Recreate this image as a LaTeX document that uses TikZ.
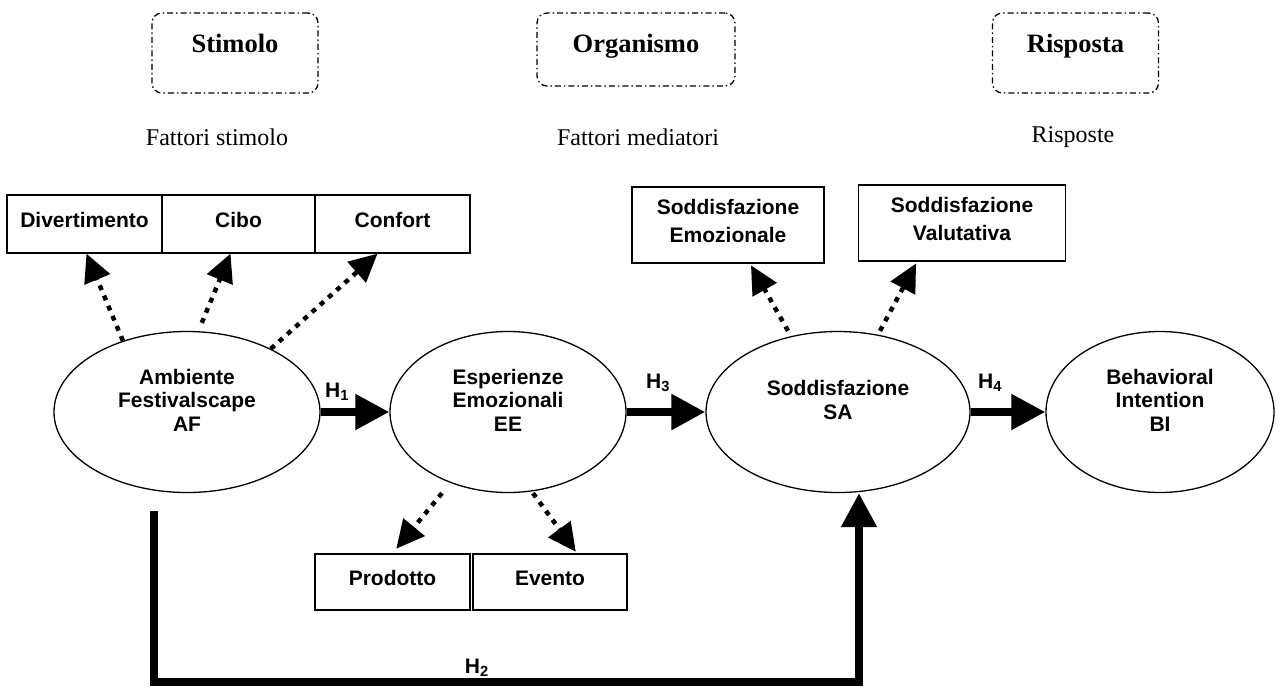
\documentclass[tikz,border=0pt]{standalone}
\usepackage{fontspec}
\setmainfont{Liberation Serif}
\newfontfamily\arialfont{Liberation Sans}
\usetikzlibrary{shapes.geometric,arrows.meta}

\begin{document}
\begin{tikzpicture}[x=1pt,y=-1pt,
    sorbox/.style={draw,line width=1.3pt,rounded corners=10pt,dash pattern=on 6pt off 3pt on 1.5pt off 3pt,minimum width=166pt,minimum height=80pt},
    sortext/.style={font=\bfseries\fontsize{26.5}{30}\selectfont,text height=18pt,text depth=6pt},
    serlbl/.style={font=\fontsize{24}{28}\selectfont},
    fbox/.style={draw,line width=1.3pt,inner sep=0pt},
    ftext/.style={align=center,yshift=4pt,font=\arialfont\bfseries\fontsize{21}{28}\selectfont},
    lat/.style={draw,ellipse,line width=1.3pt,minimum height=161pt},
    lattext/.style={align=center,font=\arialfont\bfseries\fontsize{21}{23.5}\selectfont},
    hyp/.style={line width=8pt,-{Triangle[length=34pt,width=34pt]}},
    load/.style={line width=4.5pt,dash pattern=on 5pt off 6pt,-{Triangle[length=28pt,width=27pt]}},
    hlbl/.style={font=\arialfont\bfseries\fontsize{21}{24}\selectfont}]
      % \draw[help lines](0,0) grid[step=50] (1284,686);
      \useasboundingbox (0,0) rectangle (1284,686);

      % S-O-R headings
      \draw (235,53) node[sorbox,label={[sortext,yshift=7pt]center:Stimolo}] (stimolo) {};
      \draw (636,49.5) node[sorbox,minimum width=198pt,minimum height=73pt,label={[sortext,yshift=3.5pt]center:Organismo}] (organismo) {};
      \draw (1075.5,53) node[sorbox,label={[sortext,yshift=7pt]center:Risposta}] (risposta) {};
      \draw (217,137) node[serlbl] (fstimolo) {Fattori stimolo};
      \draw (638,137) node[serlbl] (fmediatori) {Fattori mediatori};
      \draw (1073,137) node[serlbl] (frisposte) {Risposte};

      % indicator boxes
      \draw (84.5,224) node[fbox,minimum width=155pt,minimum height=58pt,label={[ftext]center:Divertimento}] (div) {};
      \draw (238.5,224) node[fbox,minimum width=153pt,minimum height=58pt,label={[ftext]center:Cibo}] (cibo) {};
      \draw (392.5,224) node[fbox,minimum width=155pt,minimum height=58pt,label={[ftext]center:Confort}] (confort) {};
      \draw (728,225) node[fbox,minimum width=192pt,minimum height=76pt,label={[ftext]center:Soddisfazione\\Emozionale}] (sodemo) {};
      \draw (962,223) node[fbox,minimum width=207pt,minimum height=76pt,label={[ftext]center:Soddisfazione\\Valutativa}] (sodval) {};
      \draw (392.5,582) node[fbox,minimum width=155pt,minimum height=56pt,label={[ftext]center:Prodotto}] (prod) {};
      \draw (550,582) node[fbox,minimum width=154pt,minimum height=56pt,label={[ftext]center:Evento}] (evento) {};

      % constructs
      \draw (187,412) node[lat,minimum width=266pt,label={[lattext,yshift=12pt]center:Ambiente\\Festivalscape\\AF}] (AF) {};
      \draw (508,412) node[lat,minimum width=236pt,label={[lattext,yshift=12pt]center:Esperienze\\Emozionali\\EE}] (EE) {};
      \draw (838,412) node[lat,minimum width=264pt,label={[lattext,yshift=12pt]center:Soddisfazione\\SA}] (SA) {};
      \draw (1160,412) node[lat,minimum width=228pt,label={[lattext,yshift=12pt]center:Behavioral\\Intention\\BI}] (BI) {};

      % hypotheses
      \draw [hyp] (AF.east) -- (EE.west) node [hlbl,pos=0.24,yshift=20pt] {H\textsubscript{1}};
      \draw [hyp] (EE.east) -- (SA.west) node [hlbl,pos=0.4,yshift=29pt] {H\textsubscript{3}};
      \draw [hyp] (SA.east) -- (BI.west) node [hlbl,pos=0.26,yshift=29pt] {H\textsubscript{4}};
      \coordinate (h2start) at (154,511);
      \coordinate (h2corner) at (859,682);
      \draw [hyp] (h2start) |- (h2corner) node [hlbl,pos=0.729,yshift=14pt] {H\textsubscript{2}} -- (h2corner |- SA.south);

      % loadings
      \draw [load] (AF.132) -- ([xshift=2pt]div.south);
      \draw [load,shorten <=9pt] (AF.82) -- ([xshift=-8pt]cibo.south);
      \draw [load] (AF.37) -- ([xshift=-15pt]confort.south);
      \draw [load,shorten >=6pt] ([xshift=-66pt]EE.south) -- (prod.north);
      \draw [load,shorten >=2pt] ([xshift=25pt]EE.south) -- ([xshift=27pt]evento.north);
      \draw [load,shorten >=2pt] ([xshift=-50pt]SA.north) -- ([xshift=22pt]sodemo.south);
      \draw [load,shorten >=2pt] ([xshift=42pt]SA.north) -- ([xshift=-45pt]sodval.south);
    \end{tikzpicture}
\end{document}
